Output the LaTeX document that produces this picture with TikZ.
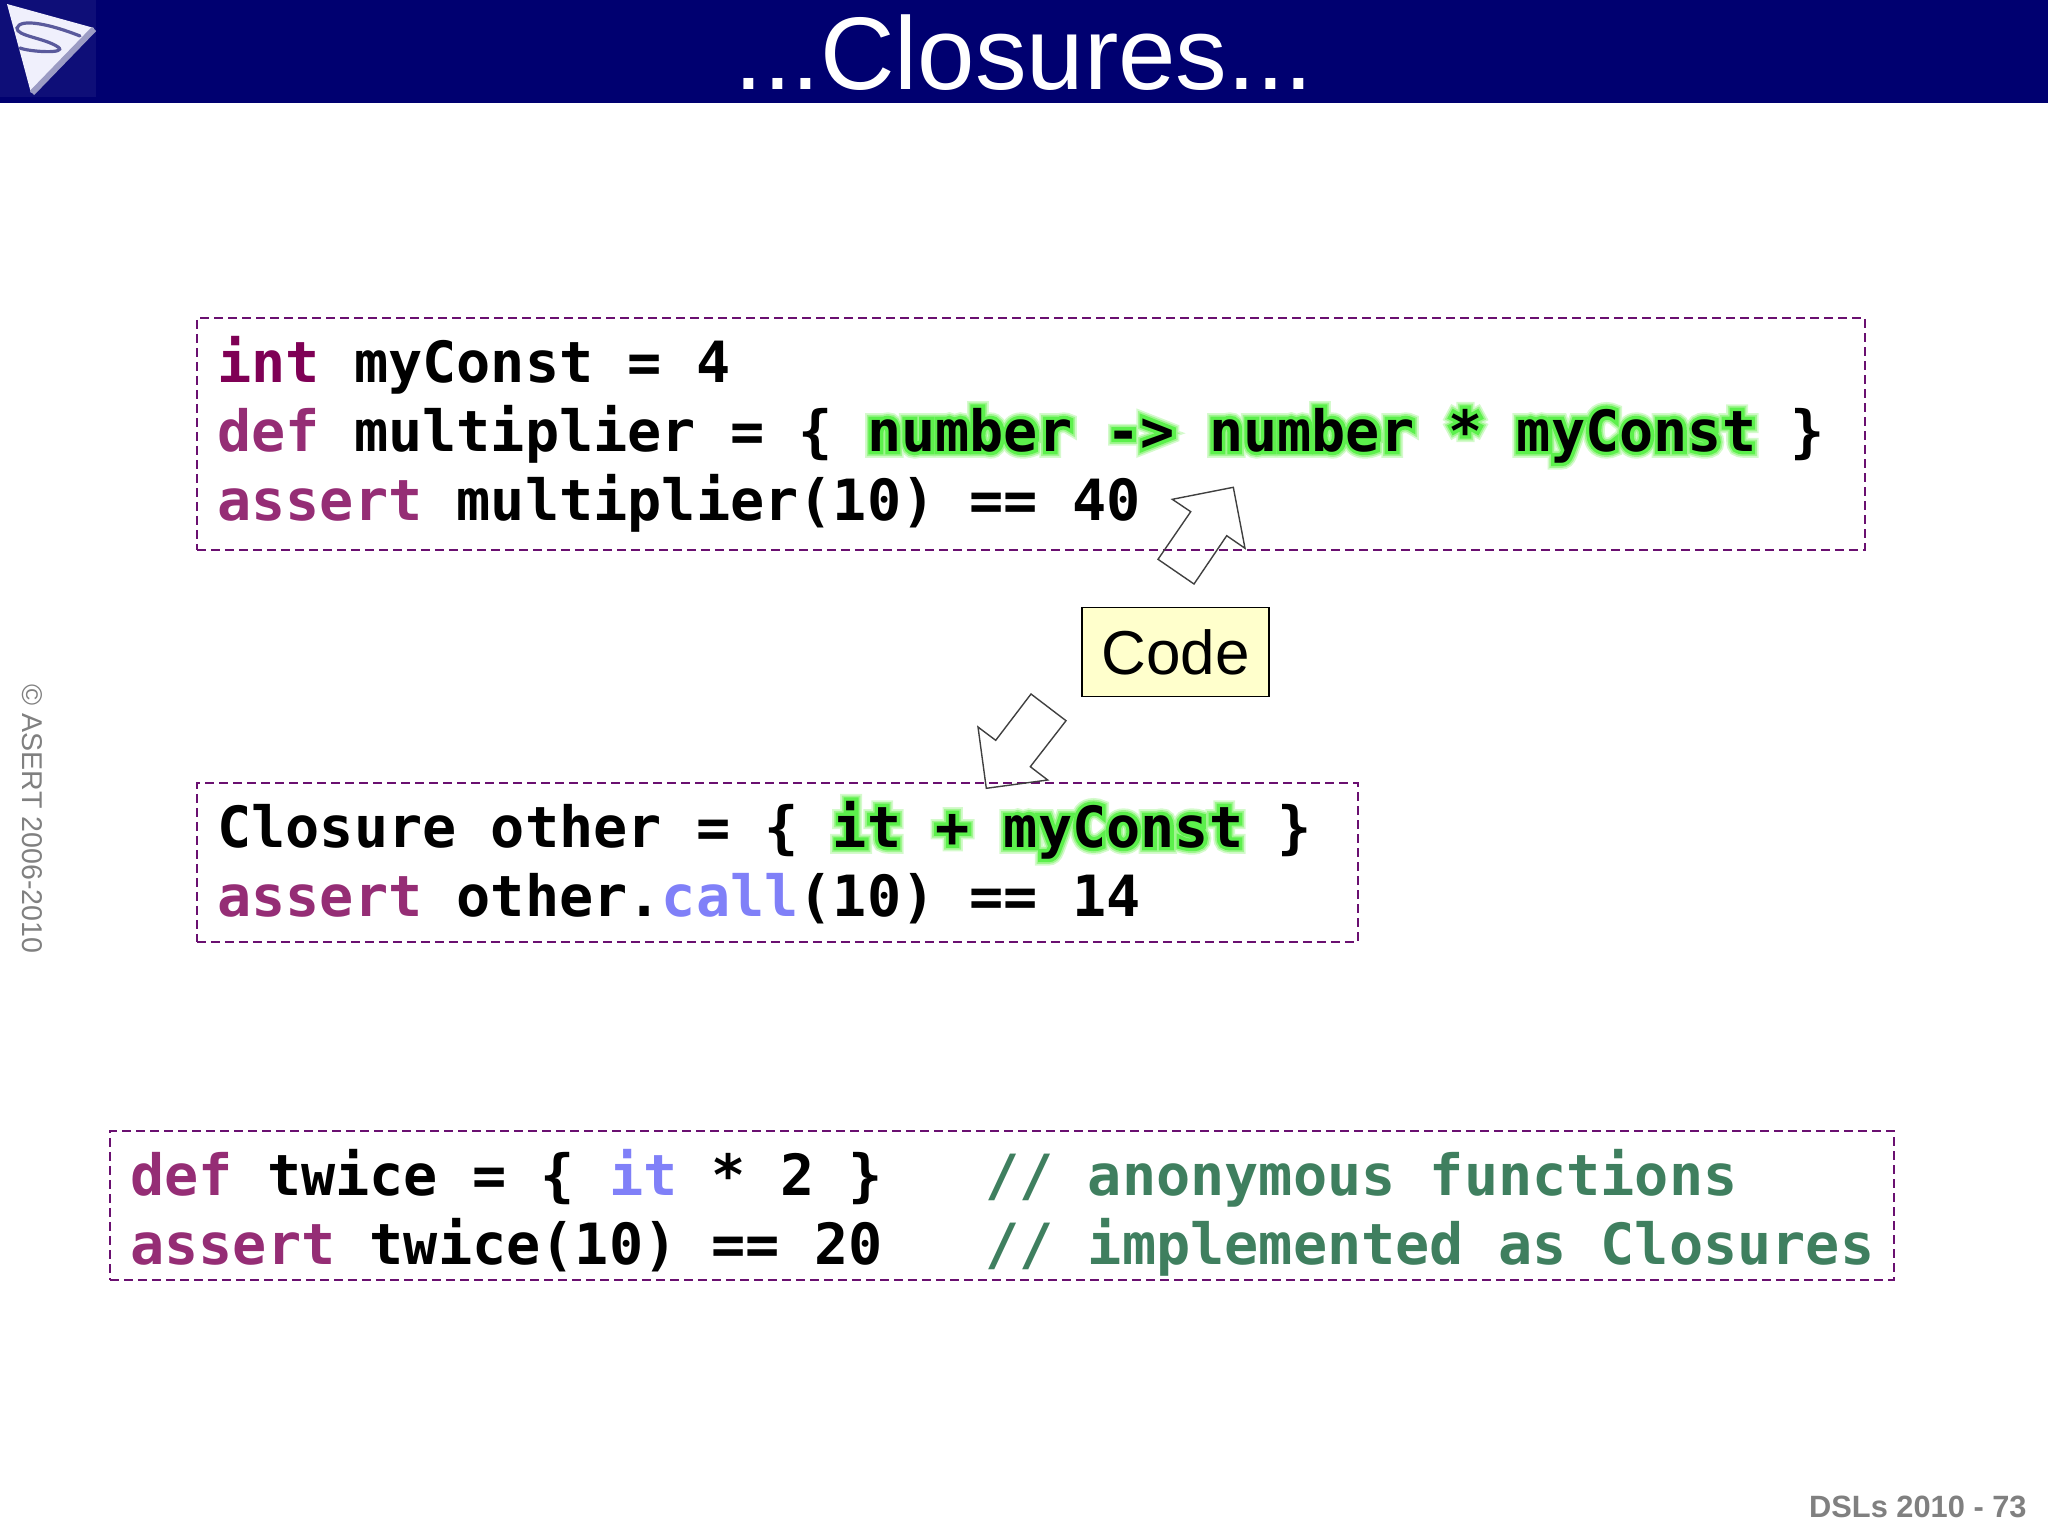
\documentclass[tikz,border=0pt]{standalone}
\usepackage{fontspec}
\setmainfont{Liberation Sans}
\newfontfamily\codefont[UprightFont=* Bold]{DejaVu Sans Mono}
\newfontfamily\glowouter[UprightFont=* Bold,FakeBold=24]{DejaVu Sans Mono}
\newfontfamily\glowmiddle[UprightFont=* Bold,FakeBold=18]{DejaVu Sans Mono}
\newfontfamily\glowinner[UprightFont=* Bold,FakeBold=12]{DejaVu Sans Mono}
\definecolor{bandnavy}{HTML}{000070}
\definecolor{logonavy}{HTML}{0E0E78}
\definecolor{logowhite}{HTML}{F0F0FC}
\definecolor{logocurve}{HTML}{5A5A9C}
\definecolor{keydark}{HTML}{7F0055}
\definecolor{keylight}{HTML}{952D75}
\definecolor{methodblue}{HTML}{8080F8}
\definecolor{commentgreen}{HTML}{3F7F5F}
\definecolor{boxpurple}{HTML}{6A1070}
\definecolor{noteyellow}{HTML}{FFFFCC}
\definecolor{glowpale}{HTML}{D4FACC}
\definecolor{glowmid}{HTML}{A0F690}
\definecolor{glowbright}{HTML}{5CF04C}
\newcommand{\glow}[1]{\rlap{\color{glowpale}\glowouter #1}\rlap{\color{glowmid}\glowmiddle #1}\rlap{\color{glowbright}\glowinner #1}#1}
\newcommand{\kw}[1]{\textcolor{keylight}{#1}}
\tikzset{
% Dashed frames round the code and one line of code
code box/.style={draw=boxpurple,line width=0.8pt,dash pattern=on 4.5pt off 2.5pt,inner sep=0,anchor=north west},
code line/.style={anchor=base west,inner sep=0,font=\codefont\fontsize{28.4}{34}\selectfont},
% Hollow arrows beside the note
hollow arrow/.style={draw=black!75,line width=0.7pt,line join=miter}
}
\begin{document}
\begin{tikzpicture}[x=0.5pt,y=-0.5pt]
      \useasboundingbox (0,0) rectangle (2048,1536);
      % Title band and logo
      \fill[bandnavy] (0,0) rectangle (2048,103);
      \fill[logonavy] (0,0) rectangle (96,97);
      \fill[logowhite] (7,4) -- (94,28) -- (31,93) -- cycle;
      \draw[logocurve!60,line width=3pt] (94,29) -- (32,93);
      \draw[logocurve,line width=1.6pt,line cap=round] (80,36) .. controls (50,24) and (20,18) .. (17,28)
        .. controls (16,36) and (45,38) .. (58,47) .. controls (68,54) and (30,52) .. (20,48);
      \node (title) at (1024,90) [anchor=base,text=white,font=\fontsize{51.6}{60}\selectfont,inner sep=0] {...Closures...};
      % First frame
      \node (frame1) at (196,317) [code box,minimum width=834pt,minimum height=116pt] {};
      \node (line1) at (217,382) [code line] {\textcolor{keydark}{int} myConst = 4};
      \node (line2) at (217,451) [code line] {\kw{def} multiplier = \{ \glow{number} \glow{->} \glow{number} \glow{*} \glow{myConst} \}};
      \node (line3) at (217,520) [code line] {\kw{assert} multiplier(10) == 40};
      % Second frame
      \node (frame2) at (196,782) [code box,minimum width=580.5pt,minimum height=79.5pt] {};
      \node (line4) at (217,847) [code line] {Closure other = \{ \glow{it} \glow{+} \glow{myConst} \}};
      \node (line5) at (217,916) [code line] {\kw{assert} other.\textcolor{methodblue}{call}(10) == 14};
      % Third frame
      \node (frame3) at (109,1130) [code box,minimum width=892pt,minimum height=74.5pt] {};
      \node (line6) at (130,1195) [code line] {\kw{def} twice = \{ \textcolor{methodblue}{it} * 2 \}~~~\textcolor{commentgreen}{// anonymous functions}};
      \node (line7) at (130,1264) [code line] {\kw{assert} twice(10) == 20~~~\textcolor{commentgreen}{// implemented as Closures}};
      % Note with its two arrows
      \node (note) at (1175.5,652) [draw,line width=0.9pt,fill=noteyellow,minimum width=93.5pt,minimum height=44.5pt,inner sep=0,font=\fontsize{31}{36}\selectfont] {Code};
      \draw[hollow arrow] (1172.3,499.3) -- (1233.3,487.3) -- (1245,548.3) -- (1226.7,535.7) -- (1194,584) -- (1158,559.3) -- (1190.7,511.7) -- cycle;
      \draw[hollow arrow] (1031,694) -- (1066,720.7) -- (1030.3,766.7) -- (1047.7,780) -- (986.3,788.3) -- (978,727) -- (995.7,740.3) -- cycle;
      % Side and foot texts
      \node (copyright) at (32,819) [rotate=-90,text=black!50,font=\fontsize{14.3}{17}\selectfont,inner sep=0] {© ASERT 2006-2010};
      \node (footer) at (2027,1517) [anchor=base east,text=black!50,font=\bfseries\fontsize{15.4}{18}\selectfont,inner sep=0] {DSLs 2010 - 73};
    \end{tikzpicture}
\end{document}
